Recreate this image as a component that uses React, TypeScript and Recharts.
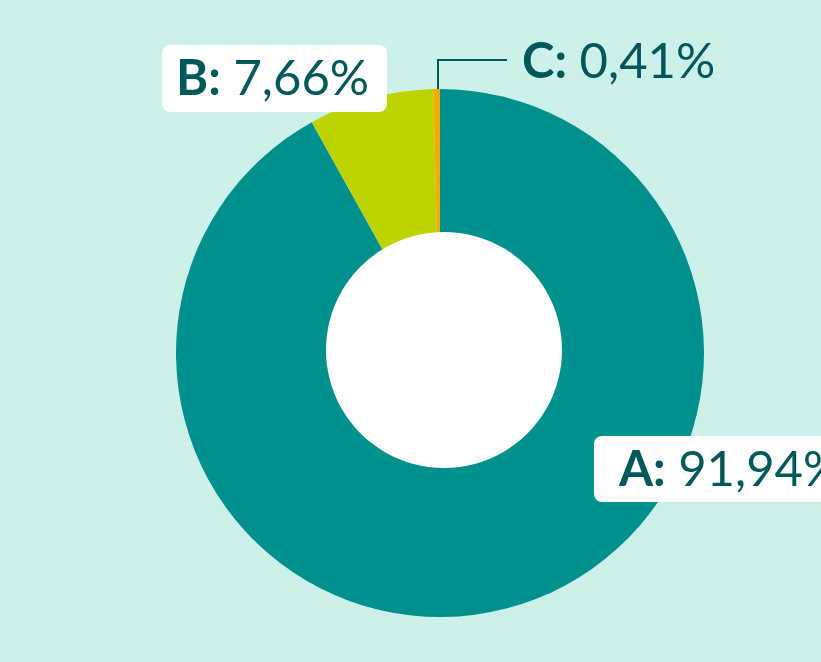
import React from 'react';
import { PieChart, Pie, Cell } from 'recharts';

const categories = ['A', 'B', 'C'];
const shares = [91.94, 7.66, 0.41];
const colors = ['#00918E', '#BDD300', '#F5AA00'];

const data = categories.map((name, i) => ({ name, value: shares[i] }));
const hole = [{ name: 'hole', value: 1 }];

const TEXT = '#00585A';
const FONT = 'Lato, "Noto Sans", sans-serif';

const fmt = (v: number) => v.toFixed(2).replace('.', ',') + '%';

const renderLabel = (props: any) => {
  const { cx, cy, index, outerRadius } = props;
  const d = data[index];
  const txt = (x: number, y: number) => (
    <text x={x} y={y} fill={TEXT} fontFamily={FONT} fontSize={49}>
      <tspan fontWeight={700}>{d.name}:</tspan>
      <tspan fontWeight={400}> {fmt(d.value)}</tspan>
    </text>
  );
  if (index === 0) {
    return (
      <g key="lab-a">
        <rect x={cx + 154} y={cy + 83} width={250} height={66} rx={8} fill="#ffffff" />
        {txt(cx + 179, cy + 133)}
      </g>
    );
  }
  if (index === 1) {
    return (
      <g key="lab-b">
        <rect x={cx - 278} y={cy - 308} width={225} height={67} rx={8} fill="#ffffff" />
        {txt(cx - 264, cy - 258)}
      </g>
    );
  }
  const top = cy - outerRadius;
  return (
    <g key="lab-c">
      <polyline
        points={`${cx - 2},${top} ${cx - 2},${top - 29} ${cx + 67},${top - 29}`}
        fill="none"
        stroke={TEXT}
        strokeWidth={2}
      />
      {txt(cx + 82, top - 11)}
    </g>
  );
};

export default function App() {
  return (
    <div style={{ position: 'absolute', left: 0, top: 0, width: 821, height: 662, background: '#CCF1EA', overflow: 'hidden' }}>
      <PieChart width={821} height={662} margin={{ top: 0, right: 0, bottom: 0, left: 0 }}>
        <Pie
          data={data}
          dataKey="value"
          nameKey="name"
          cx={440}
          cy={353}
          outerRadius={264}
          innerRadius={100}
          startAngle={90}
          endAngle={-270}
          stroke="none"
          label={renderLabel}
          labelLine={false}
          isAnimationActive={false}
        >
          {data.map((d, i) => (
            <Cell key={d.name} fill={colors[i]} />
          ))}
        </Pie>
        <Pie
          data={hole}
          dataKey="value"
          cx={444}
          cy={350}
          outerRadius={118}
          innerRadius={0}
          stroke="none"
          fill="#ffffff"
          isAnimationActive={false}
        />
      </PieChart>
    </div>
  );
}
